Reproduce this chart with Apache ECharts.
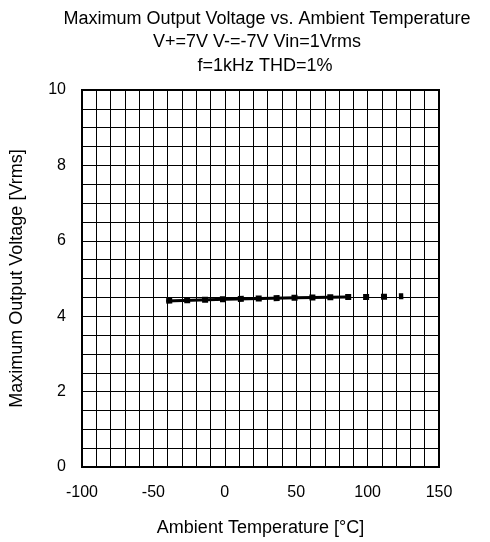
<!DOCTYPE html>
<html>
<head>
<meta charset="utf-8">
<script src="https://cdn.jsdelivr.net/npm/echarts@6/dist/echarts.min.js"></script>
<style>html,body{margin:0;padding:0;background:#fff}#c{width:490px;height:542px}</style>
</head>
<body>
<div id="c"></div>
<script>
const titleLines = ["Maximum Output Voltage vs. Ambient Temperature", "V+=7V V-=-7V Vin=1Vrms", "f=1kHz THD=1%"];
const titleCenters = [262, 252, 260];
const xName = "Ambient Temperature [°C]";
const yName = "Maximum Output Voltage [Vrms]";
const solidTemp = [-41, 0, 25, 50, 85];
const solidVolt = [4.40, 4.45, 4.47, 4.49, 4.51];
const dotTemp = [-41, 0, 25, 50, 85, 105, 125];
const dotVolt = [4.41, 4.45, 4.47, 4.49, 4.51, 4.51, 4.53];

const font = '"Liberation Sans", Arial, sans-serif';
const chart = echarts.init(document.getElementById('c'), null, {renderer: 'canvas'});
chart.setOption({
  animation: false,
  backgroundColor: '#fff',
  title: titleLines.map((t, i) => ({
    text: t, left: titleCenters[i], top: 5 + i * 23.5, textAlign: 'center',
    textStyle: {fontFamily: font, fontSize: 18, fontWeight: 'normal', color: '#000'}
  })),
  grid: {left: 78, right: 51, top: 90, bottom: 75, show: true, borderColor: '#000', borderWidth: 2, containLabel: false},
  xAxis: {
    type: 'value', min: -100, max: 150, interval: 50,
    name: xName, nameLocation: 'middle', nameGap: 52,
    nameTextStyle: {fontFamily: font, fontSize: 18, color: '#000'},
    axisLine: {show: true, onZero: false, lineStyle: {color: '#000', width: 2}},
    axisTick: {show: false},
    axisLabel: {fontFamily: font, fontSize: 16, color: '#000', margin: 18},
    splitLine: {show: true, lineStyle: {color: '#000', width: 1}},
    minorTick: {show: false, splitNumber: 5},
    minorSplitLine: {show: true, lineStyle: {color: '#000', width: 1}}
  },
  yAxis: {
    type: 'value', min: 0, max: 10, interval: 2,
    name: yName, nameLocation: 'middle', nameGap: 56,
    nameTextStyle: {fontFamily: font, fontSize: 18, color: '#000'},
    axisLine: {show: true, onZero: false, lineStyle: {color: '#000', width: 2}},
    axisTick: {show: false},
    axisLabel: {fontFamily: font, fontSize: 16, color: '#000', margin: 16},
    splitLine: {show: true, lineStyle: {color: '#000', width: 1}},
    minorTick: {show: false, splitNumber: 4},
    minorSplitLine: {show: true, lineStyle: {color: '#000', width: 1}}
  },
  series: [
    {
      type: 'line', data: dotTemp.map((t, i) => [t, dotVolt[i]]),
      showSymbol: false, symbol: 'none',
      lineStyle: {color: '#000', width: 6, type: [6, 11.9], cap: 'butt'}
    },
    {
      type: 'line', data: solidTemp.map((t, i) => [t, solidVolt[i]]),
      showSymbol: false, symbol: 'none',
      lineStyle: {color: '#000', width: 3}
    }
  ]
});
</script>
</body>
</html>
